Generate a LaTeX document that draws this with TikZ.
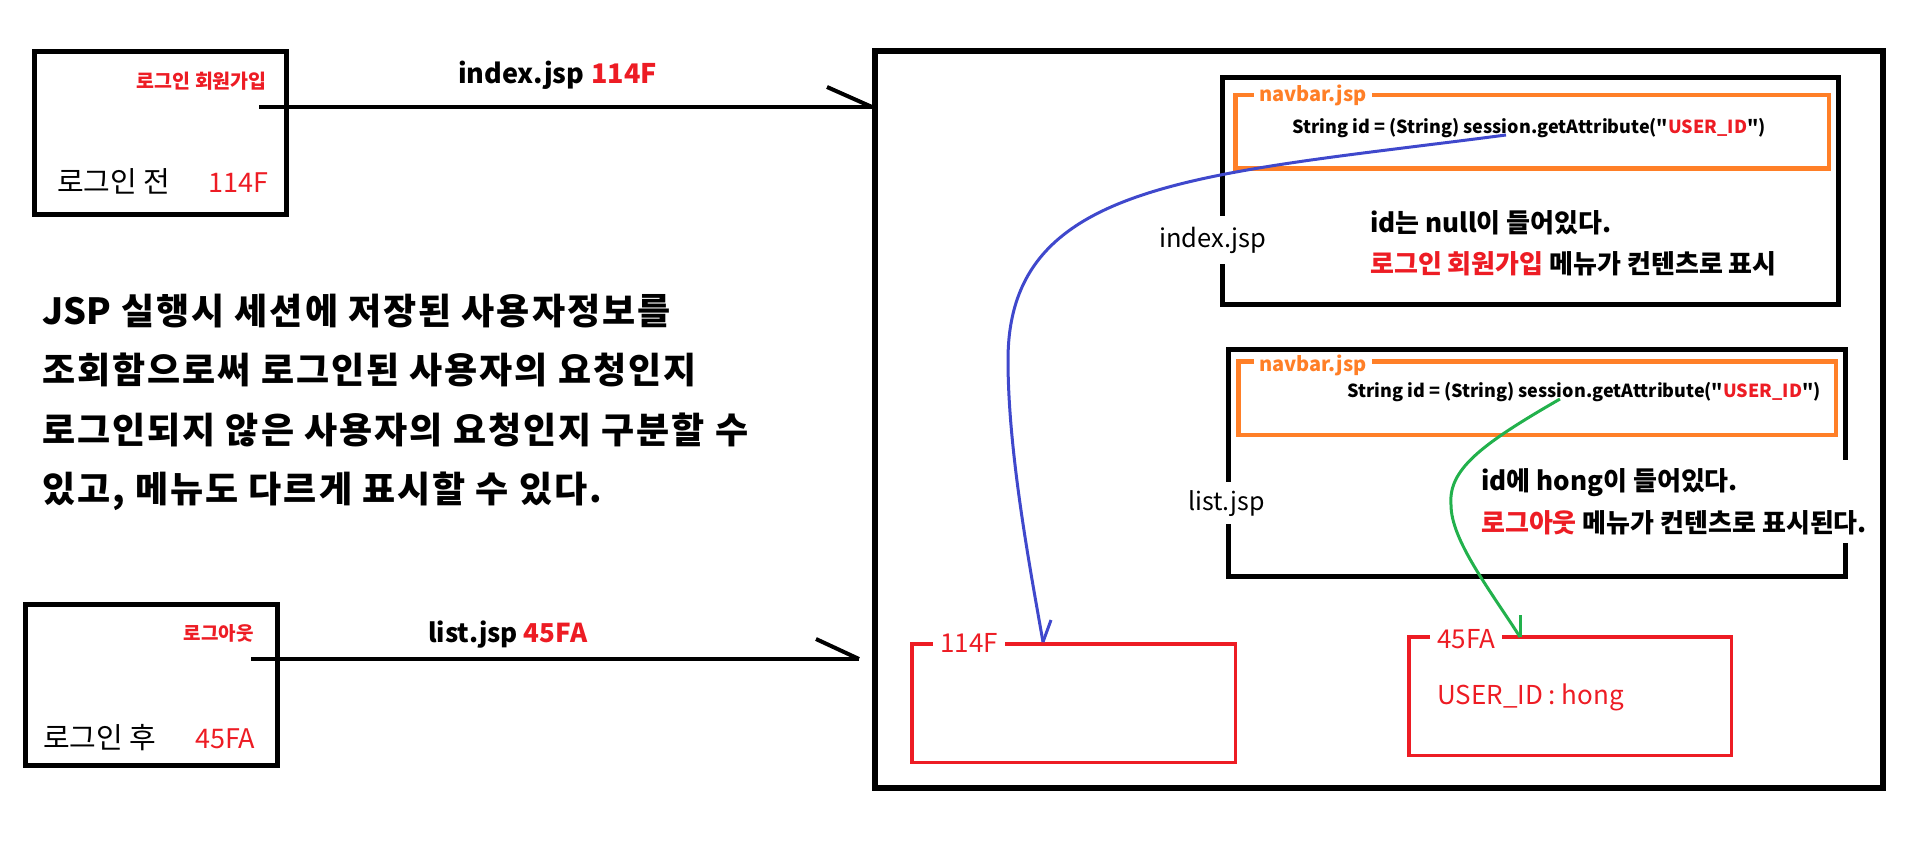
\documentclass[tikz,border=0pt]{standalone}
\usepackage{fontspec}
\setmainfont{Noto Sans CJK KR}[Ligatures=TeXOff]
\definecolor{pred}{HTML}{ED1C24}
\definecolor{porange}{HTML}{FF7F27}
\definecolor{pblue}{HTML}{3F48CC}
\definecolor{pgreen}{HTML}{22B14C}
\newcommand\fsz[1]{\fontsize{#1}{#1}\selectfont}
\newcommand\bigtxt{\bfseries\fsz{36}\addfontfeatures{LetterSpace=5.5}}
\tikzset{
  blackbox/.style={draw=black, line width=5pt, inner sep=0pt},
  orangebox/.style={draw=porange, line width=4.5pt, inner sep=0pt},
  redbox/.style={draw=pred, line width=3.5pt, inner sep=0pt},
  txt/.style={inner sep=0pt, anchor=base west},
  link/.style={draw=black, line width=4pt},
  curve/.style={line width=3pt}
}
\begin{document}
\begin{tikzpicture}[x=1pt,y=-1pt]
\useasboundingbox (0,0) rectangle (1905,861);
% left boxes
\node[blackbox, minimum width=252pt, minimum height=163pt] (boxA) at (160,133) {};
\node[txt, anchor=base east, text=pred, font=\bfseries\fsz{19.5}] (loginjoin) at (267,89) {로그인 회원가입};
\node[txt, font=\fsz{29}] (beforeA) at (57,193) {로그인 전};
\node[txt, text=pred, font=\fsz{27}] (idA) at (208,193) {114F};

\node[blackbox, minimum width=252pt, minimum height=161pt] (boxB) at (151.5,685) {};
\node[txt, anchor=base east, text=pred, font=\bfseries\fsz{19}] (logout) at (254,640) {로그아웃};
\node[txt, font=\fsz{29}] (afterB) at (43,748) {로그인 후};
\node[txt, text=pred, font=\fsz{27}] (idB) at (195,748) {45FA};

% big frame
\node[draw, line width=6pt, inner sep=0pt, minimum width=1008pt, minimum height=737pt] (frame) at (1379,419.5) {};

% connectors
\coordinate (sA) at (259,107);
\coordinate (eA) at (frame.west |- sA);
\draw[link] (sA) -- (eA);
\draw[link] (eA) -- ++(-45,-20);
\coordinate (sB) at (251,659);
\coordinate (eB) at (859,659);
\draw[link] (sB) -- (eB);
\draw[link] (eB) -- ++(-43,-20);
\node[txt, font=\bfseries\fsz{27}] (linkA) at (458,84) {index.jsp\hspace{7pt}\textcolor{pred}{114F}};
\node[txt, font=\bfseries\fsz{26}] (linkB) at (428,642) {list.jsp \textcolor{pred}{45FA}};

% explanation
\node[txt, font=\bigtxt] (t1) at (42,324) {{\addfontfeatures{LetterSpace=0}JSP} 실행시 세션에 저장된 사용자정보를};
\node[txt, font=\bigtxt] (t2) at (42,383) {조회함으로써 로그인된 사용자의 요청인지};
\node[txt, font=\bigtxt] (t3) at (42,443) {로그인되지 않은 사용자의 요청인지 구분할 수};
\node[txt, font=\bigtxt] (t4) at (42,502) {있고, 메뉴도 다르게 표시할 수 있다.};

% inner box 1
\node[blackbox, minimum width=616pt, minimum height=227pt] (inner1) at (1530.5,191) {};
\node[orangebox, minimum width=593.5pt, minimum height=73.5pt] (nav1) at (1532,132) {};
\node[txt, fill=white, inner xsep=5pt, inner ysep=2pt, text=porange, font=\bfseries\fsz{20}] (navlbl1) at (1254,102) {navbar.jsp};
\node[txt, font=\bfseries\fsz{18}] (code1) at (1292,134) {String id = (String) session.getAttribute("\textcolor{pred}{USER\_ID}")};
\node[txt, fill=white, inner xsep=0pt, inner ysep=11pt, font=\fsz{25.5}] (page1) at (1159,247) {index.jsp};
\node[txt, font=\bfseries\fsz{26}] (msg1a) at (1370,232) {id는 null이 들어있다.};
\node[txt, font=\bfseries\fsz{26}] (msg1b) at (1370,273) {\textcolor{pred}{로그인 회원가입} 메뉴가 컨텐츠로 표시};

% inner box 2
\node[blackbox, minimum width=617pt, minimum height=227pt] (inner2) at (1537,463) {};
\node[orangebox, minimum width=597.5pt, minimum height=73.5pt] (nav2) at (1537,398) {};
\node[txt, fill=white, inner xsep=5pt, inner ysep=2pt, text=porange, font=\bfseries\fsz{20}] (navlbl2) at (1254,371) {navbar.jsp};
\node[txt, font=\bfseries\fsz{18}] (code2) at (1347,397) {String id = (String) session.getAttribute("\textcolor{pred}{USER\_ID}")};
\node[txt, fill=white, inner xsep=0pt, inner ysep=8pt, font=\fsz{25}] (page2) at (1188,510) {list.jsp};
\fill[white] (1476,460) rectangle (1880,543);
\node[txt, font=\bfseries\fsz{26}] (msg2a) at (1481,490) {id에 hong이 들어있다.};
\node[txt, font=\bfseries\fsz{26}] (msg2b) at (1481,532) {\textcolor{pred}{로그아웃} 메뉴가 컨텐츠로 표시된다.};

% session boxes
\node[redbox, minimum width=323.5pt, minimum height=118.5pt] (sess1) at (1073.5,703) {};
\node[txt, fill=white, inner xsep=7pt, inner ysep=1pt, text=pred, font=\fsz{26}] (sid1) at (933,652) {114F};
\node[redbox, minimum width=322.5pt, minimum height=118.5pt] (sess2) at (1570,696) {};
\node[txt, fill=white, inner xsep=7pt, inner ysep=1pt, text=pred, font=\fsz{26}] (sid2) at (1430,648) {45FA};
\node[txt, text=pred, font=\fsz{26}] (attr) at (1437,704) {USER\_ID : hong};

% curves
\coordinate (b0) at (1506,135);
\coordinate (b1) at (1008,360);
\coordinate (b2) at (1043,642);
\draw[curve, pblue] (b0) .. controls (1200,175) and (1008,180) .. (b1) .. controls (1008,450) and (1029,563) .. (b2);
\draw[curve, pblue] (b2) -- (1051,620);
\coordinate (g0) at (1560,399);
\coordinate (g1) at (1451,505);
\coordinate (g2) at (1520,637);
\draw[curve, pgreen] (g0) .. controls (1480,445) and (1448,470) .. (g1) .. controls (1451,540) and (1490,590) .. (g2);
\draw[curve, pgreen] (g2) -- (1520,615);
\end{tikzpicture}
\end{document}
